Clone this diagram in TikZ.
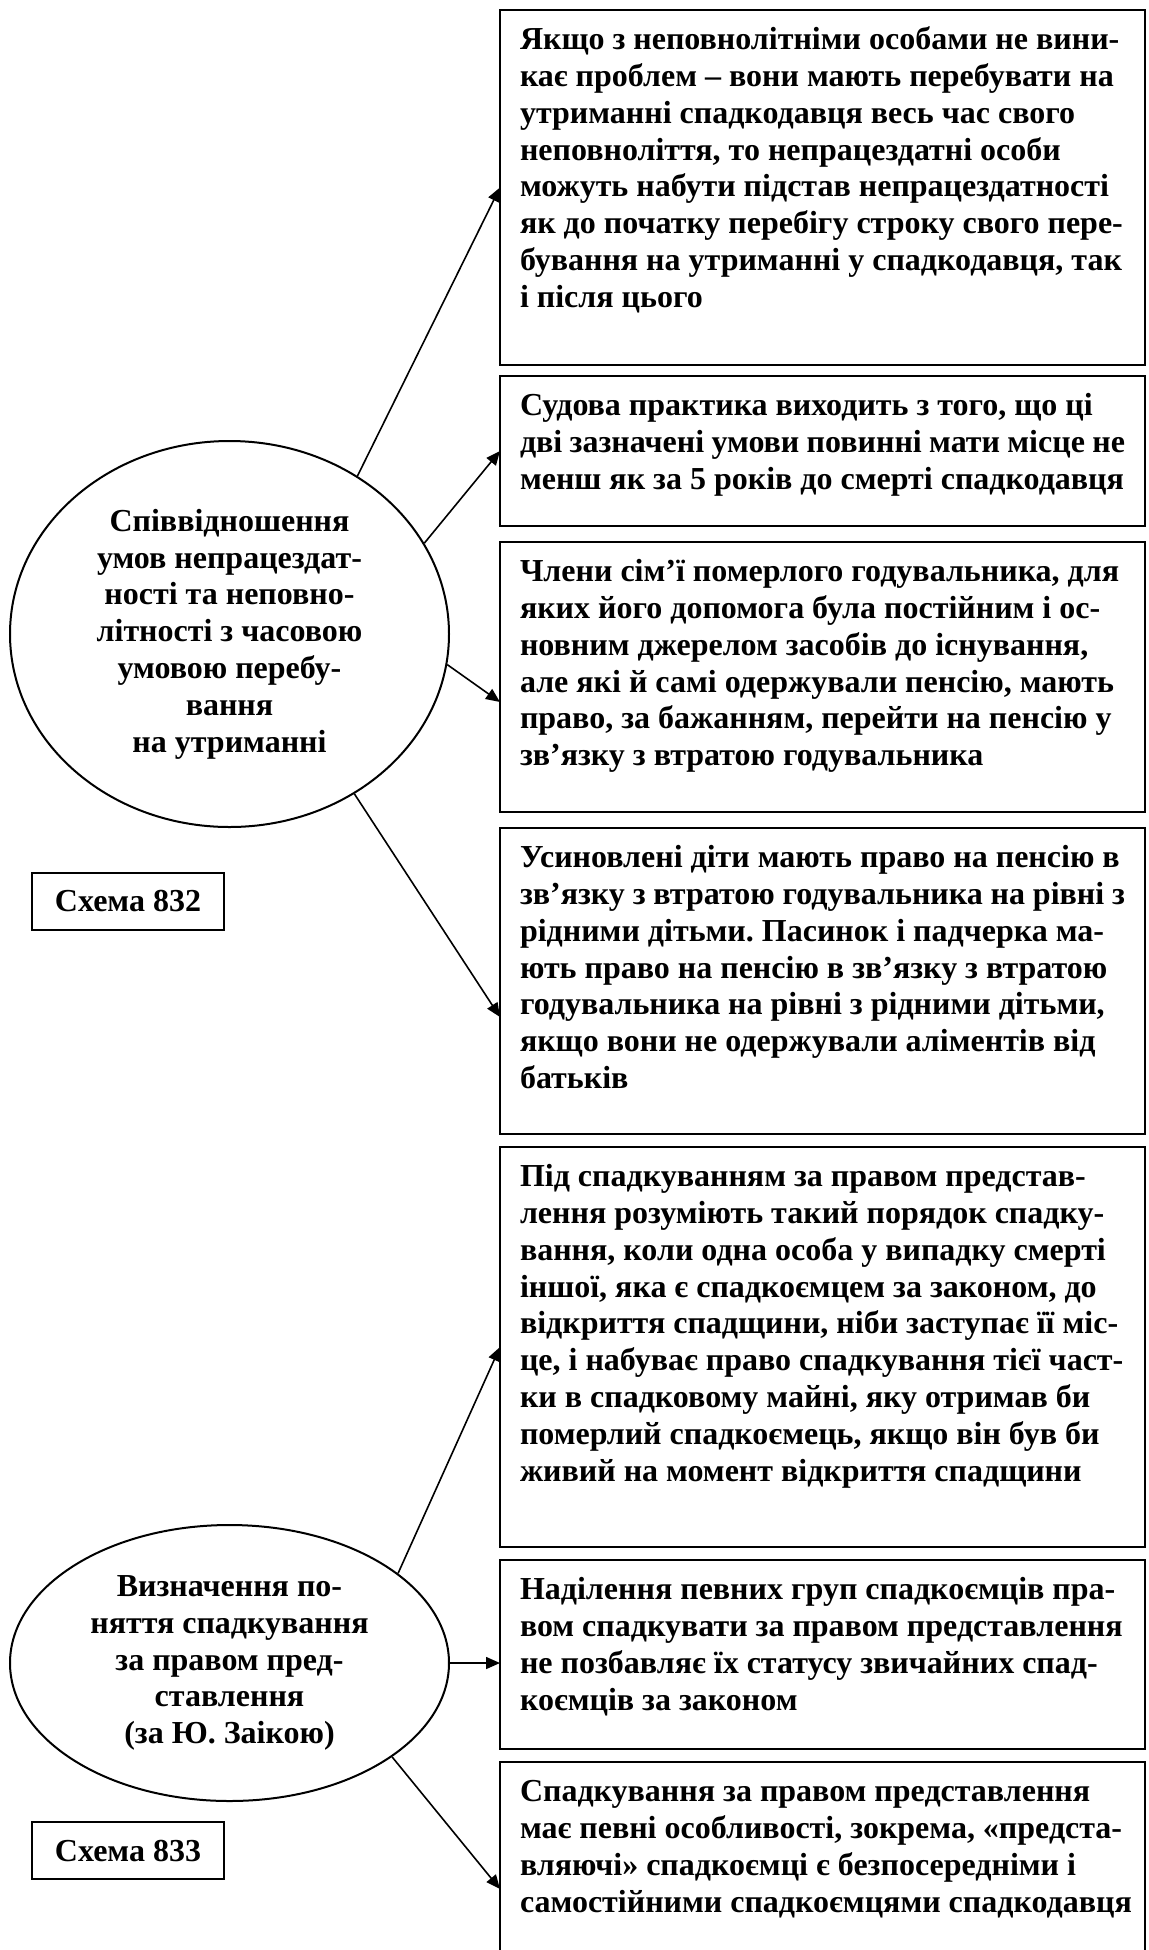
\documentclass[tikz,border=0pt]{standalone}
\usepackage{fontspec}
\setmainfont{Liberation Serif}
\frenchspacing
\usetikzlibrary{arrows.meta,shapes.geometric,calc}
\tikzset{
  x=0.5pt,y=-0.5pt,
  every node/.style={font=\fontsize{16pt}{18.4pt}\selectfont\bfseries},
  infobox/.style={draw,line width=1pt,anchor=north west,inner xsep=10pt,inner ysep=7pt,outer sep=0pt},
  topic/.style={draw,ellipse,line width=1pt,inner sep=0pt,minimum width=219.5pt,align=center},
  schema/.style={draw,line width=1pt,minimum width=96pt,minimum height=28.5pt,inner sep=0pt},
  link/.style={-{Triangle[length=7pt,width=6pt]},line width=0.8pt},
}
\newcommand{\boxtext}[2]{\parbox[c][#1][t]{302.5pt}{\strut#2}}

\begin{document}
\begin{tikzpicture}
  \useasboundingbox (0,0) rectangle (1148,1950);
  \fill[white] (0,0) rectangle (1148,1950);

  % ================= schema 832 =================
  \node[infobox] (b1) at (500,10) {\boxtext{163.5pt}{Якщо з неповнолітніми особами не вини-\\
    кає проблем – вони мають перебувати на\\
    утриманні спадкодавця весь час свого\\
    неповноліття, то непрацездатні особи\\
    можуть набути підстав непрацездатності\\
    як до початку перебігу строку свого пере-\\
    бування на утриманні у спадкодавця, так\\
    і після цього}};
  \node[infobox] (b2) at (500,376) {\boxtext{61pt}{Судова практика виходить з того, що ці\\
    дві зазначені умови повинні мати місце не\\
    менш як за 5 років до смерті спадкодавця}};
  \node[infobox] (b3) at (500,542) {\boxtext{121pt}{Члени сім’ї померлого годувальника, для\\
    яких його допомога була постійним і ос-\\
    новним джерелом засобів до існування,\\
    але які й самі одержували пенсію, мають\\
    право, за бажанням, перейти на пенсію у\\
    зв’язку з втратою годувальника}};
  \node[infobox] (b4) at (500,828) {\boxtext{139pt}{Усиновлені діти мають право на пенсію в\\
    зв’язку з втратою годувальника на рівні з\\
    рідними дітьми. Пасинок і падчерка ма-\\
    ють право на пенсію в зв’язку з втратою\\
    годувальника на рівні з рідними дітьми,\\
    якщо вони не одержували аліментів від\\
    батьків}};

  \node[topic,minimum height=193pt] (e1) at (229.5,634)
    {Співвідношення\\ умов непрацездат-\\ ності та неповно-\\ літності з часовою\\
     умовою перебу-\\ вання\\ на утриманні};
  \node[schema] (s832) at (128,901.5) {Схема 832};

  \draw[link] (e1.51.9)  -- (b1.west);
  \draw[link] (e1.25.7)  -- (b2.west);
  \draw[link] (e1.-8.8)  -- ([yshift=-12.5pt]b3.west);
  \draw[link] (e1.-52.6) -- ([yshift=-18pt]b4.west);

  % ================= schema 833 =================
  \node[infobox] (b5) at (500,1147) {\boxtext{186pt}{Під спадкуванням за правом представ-\\
    лення розуміють такий порядок спадку-\\
    вання, коли одна особа у випадку смерті\\
    іншої, яка є спадкоємцем за законом, до\\
    відкриття спадщини, ніби заступає її міс-\\
    це, і набуває право спадкування тієї част-\\
    ки в спадковому майні, яку отримав би\\
    померлий спадкоємець, якщо він був би\\
    живий на момент відкриття спадщини}};
  \node[infobox] (b6) at (500,1560) {\boxtext{80.5pt}{Наділення певних груп спадкоємців пра-\\
    вом спадкувати за правом представлення\\
    не позбавляє їх статусу звичайних спад-\\
    коємців за законом}};
  \node[infobox] (b7) at (500,1762) {\boxtext{81pt}{Спадкування за правом представлення\\
    має певні особливості, зокрема, «предста-\\
    вляючі» спадкоємці є безпосередніми і\\
    \mbox{самостійними спадкоємцями спадкодавця}}};

  \node[topic,minimum height=138pt] (e2) at (229.5,1663)
    {Визначення по-\\ няття спадкування\\ за правом пред-\\ ставлення\\ (за Ю. Заікою)};
  \node[schema] (s833) at (128,1850.5) {Схема 833};

  \draw[link] (e2.28.5) -- (b5.west);
  \draw[link] (e2.east) -- (e2.east -| b6.west);
  \draw[link] (e2.-30)  -- ([yshift=-63.5pt]b7.north west);
\end{tikzpicture}
\end{document}
